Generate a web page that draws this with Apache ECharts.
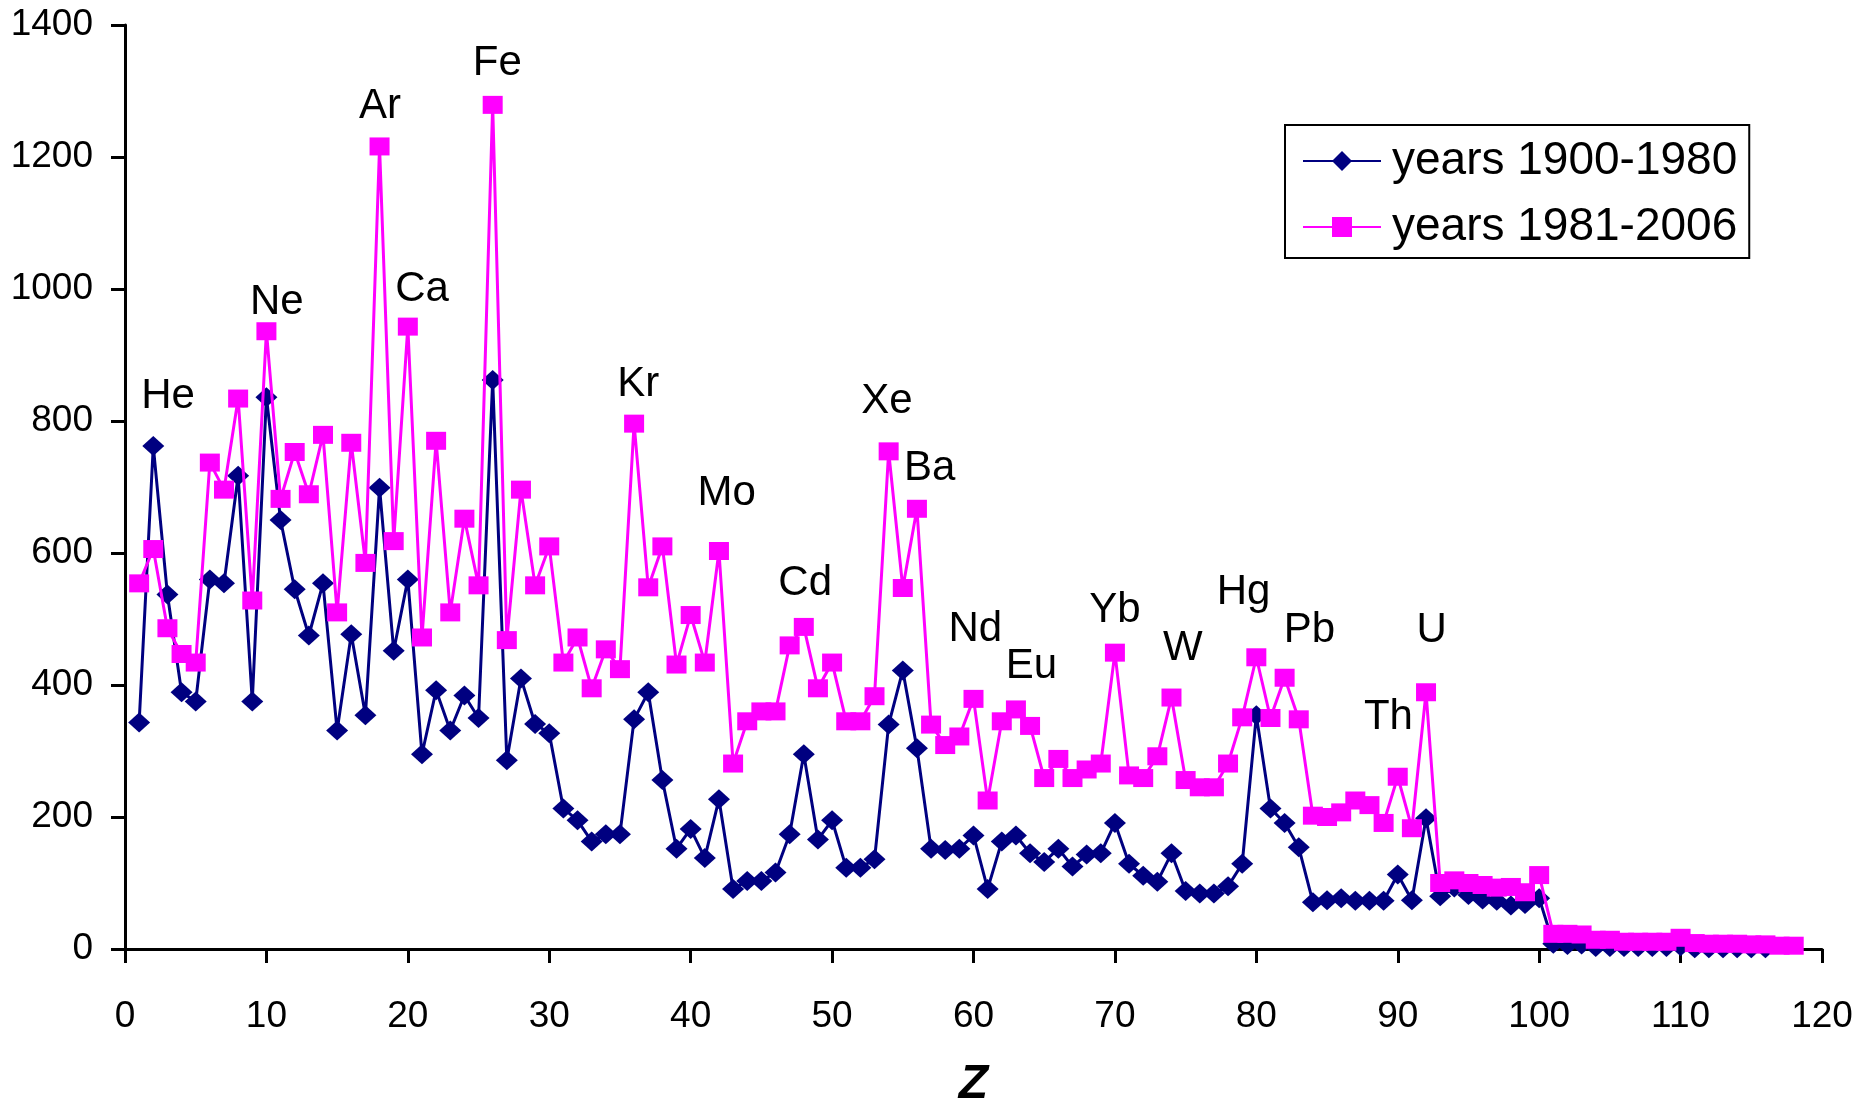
<!DOCTYPE html>
<html>
<head>
<meta charset="utf-8">
<script src="https://cdn.jsdelivr.net/npm/echarts@6/dist/echarts.min.js"></script>
<style>
html,body{margin:0;padding:0;background:#fff;}
#chart{width:1858px;height:1098px;}
</style>
</head>
<body>
<div id="chart"></div>
<script>
// Series names
var seriesNames = ['years 1900-1980', 'years 1981-2006'];

// Values indexed by atomic number Z = 1, 2, 3, ...
var values1900_1980 = [
  343, 762, 537, 389, 375, 560, 554, 717, 375, 836,
  650, 545, 475, 554, 331, 477, 354, 699, 452, 560,
  295, 392, 331, 384, 350, 862, 286, 410, 341, 327,
  213, 195, 163, 174, 174, 348, 389, 256, 152, 182,
  138, 227, 91, 103, 103, 116, 174, 295, 166, 195,
  123, 123, 136, 340, 422, 304, 152, 150, 152, 172,
  91, 163, 172, 145, 132, 152, 125, 143, 145, 191,
  129, 111, 102, 145, 88, 84, 84, 95, 129, 354,
  213, 191, 154, 71, 74, 77, 73, 73, 73, 113,
  74, 198, 80, 93, 82, 75, 73, 66, 68, 77,
  8, 6, 7, 3, 3, 3, 3, 3, 3, 4,
  1, 1, 1, 1, 1, 1
];

var values1981_2006 = [
  554, 606, 486, 447, 434, 737, 696, 834, 528, 936,
  682, 753, 689, 779, 510, 767, 585, 1216, 618, 943,
  472, 770, 510, 652, 551, 1279, 468, 696, 551, 610,
  434, 472, 395, 454, 424, 796, 548, 610, 431, 506,
  434, 603, 281, 345, 360, 360, 460, 488, 395, 434,
  345, 345, 383, 754, 547, 667, 340, 309, 322, 379,
  225, 345, 363, 338, 259, 288, 259, 272, 281, 449,
  263, 259, 292, 381, 256, 245, 245, 281, 351, 442,
  350, 411, 348, 202, 200, 207, 225, 218, 191, 261,
  183, 389, 100, 104, 100, 97, 93, 94, 86, 112,
  23, 23, 22, 14, 14, 11, 11, 11, 11, 17,
  9, 8, 8, 8, 7, 7, 5, 5
];

// Element annotations: name and anchor in data coordinates (Z, count)
var elementNames = ['He','Ne','Ar','Ca','Fe','Kr','Mo','Cd','Xe','Ba','Nd','Eu','Yb','W','Hg','Pb','Th','U'];
var elementZ     = [3.05, 10.73, 18.03, 21.0, 26.33, 36.3, 42.55, 48.1, 53.87, 56.9, 60.13, 64.1, 70.0, 74.8, 79.1, 83.76, 89.34, 92.4];
var elementY     = [837, 980, 1276, 999, 1342, 856, 690, 554, 829, 728, 484, 428, 513, 456, 540, 483, 351, 483];

// Axis ticks
var xTicks = { min: 0, max: 120, interval: 10 };
var yTicks = { min: 0, max: 1400, interval: 200 };
var xAxisTitle = 'Z';

function toPoints(vals) {
  // x = atomic number Z (1-based position in the list)
  return vals.map(function (v, i) { return [i + 1, v]; });
}

var FONT = '"Liberation Sans", Arial, sans-serif';
var chart = echarts.init(document.getElementById('chart'), null, { renderer: 'canvas' });

var labelData = elementNames.map(function (n, i) {
  return { name: n, value: [elementZ[i], elementY[i]] };
});

chart.setOption({
  animation: false,
  backgroundColor: '#ffffff',
  grid: { left: 125, right: 36, top: 25, bottom: 149, containLabel: false, outerBoundsMode: 'none' },
  legend: {
    data: seriesNames,
    orient: 'vertical',
    left: 1285,
    top: 125,
    itemWidth: 78,
    itemHeight: 25,
    itemGap: 20,
    padding: [13, 12, 8, 17],
    borderColor: '#000',
    borderWidth: 2,
    textStyle: { fontFamily: FONT, fontSize: 46, color: '#000', padding: [0, 0, 0, 6] }
  },
  xAxis: {
    type: 'value',
    min: xTicks.min, max: xTicks.max, interval: xTicks.interval,
    name: xAxisTitle,
    nameLocation: 'middle',
    nameGap: 112,
    nameTextStyle: { fontFamily: FONT, fontSize: 48, fontWeight: 'bold', fontStyle: 'italic', color: '#000' },
    axisLine: { show: true, onZero: false, lineStyle: { color: '#000', width: 3 } },
    axisTick: { show: true, inside: false, length: 14, lineStyle: { color: '#000', width: 3 } },
    axisLabel: { fontFamily: FONT, fontSize: 37, color: '#000', margin: 49 },
    splitLine: { show: false }
  },
  yAxis: {
    type: 'value',
    min: yTicks.min, max: yTicks.max, interval: yTicks.interval,
    axisLine: { show: true, lineStyle: { color: '#000', width: 3 } },
    axisTick: { show: true, inside: false, length: 14, lineStyle: { color: '#000', width: 3 } },
    axisLabel: { fontFamily: FONT, fontSize: 37, color: '#000', margin: 32,
      formatter: function (v) { return String(v); } },
    splitLine: { show: false }
  },
  series: [
    {
      name: seriesNames[0],
      type: 'line',
      data: toPoints(values1900_1980),
      symbol: 'diamond',
      symbolSize: [22, 20],
      showAllSymbol: true,
      color: '#000080',
      itemStyle: { color: '#000080' },
      lineStyle: { color: '#000080', width: 3 },
      z: 2
    },
    {
      name: seriesNames[1],
      type: 'line',
      data: toPoints(values1981_2006),
      symbol: 'rect',
      symbolSize: [20, 18],
      showAllSymbol: true,
      color: '#ff00ff',
      itemStyle: { color: '#ff00ff' },
      lineStyle: { color: '#ff00ff', width: 3 },
      z: 3
    },
    {
      name: 'elements',
      type: 'scatter',
      data: labelData,
      symbolSize: 0,
      silent: true,
      z: 4,
      itemStyle: { opacity: 1 },
      label: {
        show: true,
        position: 'inside',
        formatter: function (p) { return p.name; },
        fontFamily: FONT,
        fontSize: 42,
        color: '#000000',
        opacity: 1
      }
    }
  ]
});
</script>
</body>
</html>
